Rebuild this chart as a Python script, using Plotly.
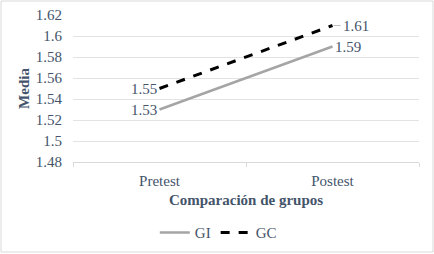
import plotly.graph_objects as go

categories = ["Pretest", "Postest"]
gi_values = [1.53, 1.59]
gc_values = [1.55, 1.61]
y_ticks = [1.48, 1.5, 1.52, 1.54, 1.56, 1.58, 1.6, 1.62]
y_tick_labels = ["1.48", "1.5", "1.52", "1.54", "1.56", "1.58", "1.6", "1.62"]

font_family = "Times New Roman, Liberation Serif, DejaVu Serif, serif"
txt_color = "#44546a"
fs = 15

fig = go.Figure()
fig.add_trace(go.Scatter(
    x=categories, y=gi_values, name="GI", mode="lines",
    line=dict(color="#a5a5a5", width=2.5),
))
fig.add_trace(go.Scatter(
    x=categories, y=gc_values, name="GC", mode="lines",
    line=dict(color="#000000", width=3, dash="dash"),
))

# data labels
for vals in (gi_values, gc_values):
    fig.add_annotation(x=categories[0], y=vals[0], text=f"{vals[0]:.2f}",
                       showarrow=False, xanchor="right", xshift=-1,
                       font=dict(family=font_family, size=fs, color=txt_color))
fig.add_annotation(x=categories[1], y=gi_values[1], text=f"{gi_values[1]:.2f}",
                   showarrow=False, xanchor="left", xshift=0,
                   font=dict(family=font_family, size=fs, color=txt_color))
fig.add_annotation(x=categories[1], y=gc_values[1], text=f"{gc_values[1]:.2f}",
                   showarrow=True, arrowhead=0, arrowcolor="#bfbfbf", arrowwidth=1,
                   ax=8, ay=0, xanchor="left", standoff=1,
                   font=dict(family=font_family, size=fs, color=txt_color))

fig.update_layout(
    width=434, height=254,
    margin=dict(l=73, r=15, t=15, b=92, autoexpand=False),
    paper_bgcolor="white", plot_bgcolor="white",
    font=dict(family=font_family, size=fs, color=txt_color),
    showlegend=True,
    legend=dict(orientation="h", x=0.42, xanchor="center", y=-0.482, yanchor="middle",
                font=dict(family=font_family, size=fs, color=txt_color),
                itemwidth=30, tracegroupgap=0),
    xaxis=dict(
        type="category", range=[-0.5, 1.5], automargin=False,
        showgrid=False, showline=True, linecolor="#d9d9d9", linewidth=1,
        ticks="outside", tickson="boundaries", ticklen=4, tickcolor="#d9d9d9",
        ticklabelstandoff=5,
        tickfont=dict(family=font_family, size=fs, color=txt_color),
        title=dict(text="<b>Comparación de grupos</b>", standoff=6,
                   font=dict(family=font_family, size=fs, color=txt_color)),
    ),
    yaxis=dict(
        range=[1.48, 1.62], tickvals=y_ticks, ticktext=y_tick_labels, automargin=False,
        showgrid=True, gridcolor="#e3e3e3", gridwidth=1,
        zeroline=False, showline=False, ticks="",
        ticklabelstandoff=10,
        tickfont=dict(family=font_family, size=fs, color=txt_color),
        title=dict(text="<b>Media</b>", standoff=2,
                   font=dict(family=font_family, size=fs, color=txt_color)),
    ),
)

fig.add_shape(type="rect", xref="paper", yref="paper",
              x0=-72/346, x1=1+14/346, y0=-90/147, y1=1+14/147,
              line=dict(color="#d9d9d9", width=1))

fig.write_html("out.html", config={"displayModeBar": False},
               post_script="document.body.style.margin='0';")
